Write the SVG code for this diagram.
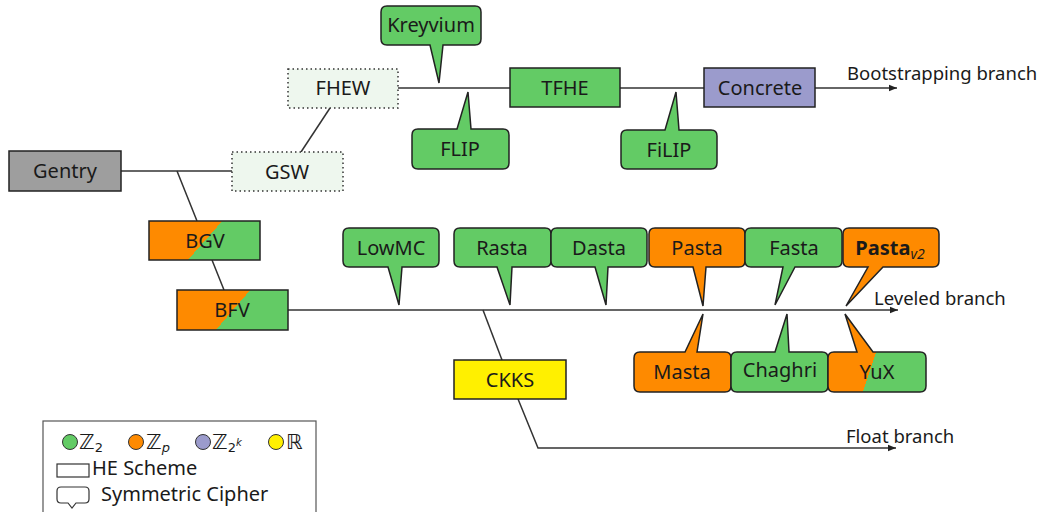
<svg xmlns="http://www.w3.org/2000/svg" width="1042" height="512" viewBox="0 0 1042 512">
<style>
text{font-family:"Noto Sans","Open Sans","DejaVu Sans",sans-serif;fill:#1a1a1a}
.t{font-size:20px;text-anchor:middle}
.lbl{font-size:18.5px}
.box{stroke:#222;stroke-width:1.5}
.dot{fill:#eef7ee;stroke:#333;stroke-width:1.5;stroke-dasharray:1.5 3}
.g{fill:#63cb65}
.o{fill:#fe8a00}
.p{fill:#9b9bcc}
.y{fill:#fff000}
.con{stroke:#333;stroke-width:1.5;fill:none}
.math{font-family:"DejaVu Sans",sans-serif;font-size:21px}
</style>
<defs>
<marker id="arr" viewBox="0 0 10 10" refX="10" refY="5" markerWidth="10" markerHeight="8" markerUnits="userSpaceOnUse" orient="auto">
<path d="M0,1 L10,5 L0,9 Z" fill="#222"/>
</marker>
<linearGradient id="og" x1="0.005" y1="0.345" x2="1.005" y2="0.655">
<stop offset="0.5" stop-color="#fe8a00"/><stop offset="0.5" stop-color="#63cb65"/>
</linearGradient>
<linearGradient id="yux" gradientUnits="userSpaceOnUse" x1="829.5" y1="359" x2="909.5" y2="385">
<stop offset="0.5" stop-color="#fe8a00"/><stop offset="0.5" stop-color="#63cb65"/>
</linearGradient>
</defs>

<g id="connectors">
<line class="con" x1="121" y1="171" x2="232" y2="171"/>
<line class="con" x1="301" y1="152" x2="330" y2="108"/>
<line class="con" x1="398" y1="88" x2="510" y2="88"/>
<line class="con" x1="620" y1="88" x2="704" y2="88"/>
<line class="con" x1="815" y1="88" x2="897" y2="88" marker-end="url(#arr)"/>
<line class="con" x1="177" y1="171" x2="197" y2="221"/>
<line class="con" x1="212" y1="260" x2="224" y2="290"/>
<line class="con" x1="288" y1="310" x2="898" y2="310" marker-end="url(#arr)"/>
<line class="con" x1="483" y1="310" x2="502" y2="360"/>
<polyline class="con" points="518,399 538,448 896,448" marker-end="url(#arr)"/>
</g>

<g id="gentry"><rect class="box" x="9" y="151" width="112" height="40" fill="#9e9e9e"/><text class="t" x="65" y="178">Gentry</text></g>
<g id="gsw"><rect class="dot" x="232" y="152" width="111" height="39"/><text class="t" x="287" y="179">GSW</text></g>
<g id="fhew"><rect class="dot" x="288" y="69" width="110" height="39"/><text class="t" x="343" y="95">FHEW</text></g>
<g id="tfhe"><rect class="box g" x="510" y="68" width="110" height="39"/><text class="t" x="565" y="95">TFHE</text></g>
<g id="concrete"><rect class="box p" x="704" y="68" width="111" height="39"/><text class="t" x="760" y="95">Concrete</text></g>
<text class="lbl" x="847" y="80">Bootstrapping branch</text>

<g id="kreyvium"><path class="box g" d="M387,6 H475 Q481,6 481,12 V39 Q481,45 475,45 H443 L439,83 L430,45 H387 Q381,45 381,39 V12 Q381,6 387,6 Z"/><text class="t" x="431" y="32">Kreyvium</text></g>
<g id="flip"><path class="box g" d="M418,129 H457 L468,92 L471,129 H503 Q509,129 509,135 V163 Q509,169 503,169 H418 Q412,169 412,163 V135 Q412,129 418,129 Z"/><text class="t" x="460" y="156">FLIP</text></g>
<g id="filip"><path class="box g" d="M627,130 H665 L676,92 L679,130 H711 Q717,130 717,136 V163 Q717,169 711,169 H627 Q621,169 621,163 V136 Q621,130 627,130 Z"/><text class="t" x="669" y="157">FiLIP</text></g>

<g id="bgv"><rect class="box" x="149" y="221" width="111" height="39" fill="url(#og)"/><text class="t" x="205" y="248">BGV</text></g>
<g id="bfv"><rect class="box" x="177" y="290" width="111" height="40" fill="url(#og)"/><text class="t" x="232" y="317">BFV</text></g>
<g id="ckks"><rect class="box y" x="454" y="360" width="112" height="39"/><text class="t" x="510" y="387">CKKS</text></g>
<text class="lbl" x="874" y="305">Leveled branch</text>
<text class="lbl" x="846" y="443">Float branch</text>

<g id="lowmc"><path class="box g" d="M349,228 H433 Q439,228 439,234 V261 Q439,267 433,267 H402 L399,305 L388,267 H349 Q343,267 343,261 V234 Q343,228 349,228 Z"/><text class="t" x="391" y="255">LowMC</text></g>
<g id="rasta"><path class="box g" d="M460,228 H545 Q551,228 551,234 V261 Q551,267 545,267 H512 L510,305 L497,267 H460 Q454,267 454,261 V234 Q454,228 460,228 Z"/><text class="t" x="502" y="255">Rasta</text></g>
<g id="dasta"><path class="box g" d="M557,228 H641 Q647,228 647,234 V261 Q647,267 641,267 H608 L606,305 L595,267 H557 Q551,267 551,261 V234 Q551,228 557,228 Z"/><text class="t" x="599" y="255">Dasta</text></g>
<g id="pasta"><path class="box o" d="M655,228 H739 Q745,228 745,234 V261 Q745,267 739,267 H706 L703,306 L693,267 H655 Q649,267 649,261 V234 Q649,228 655,228 Z"/><text class="t" x="697" y="255">Pasta</text></g>
<g id="fasta"><path class="box g" d="M751,228 H836 Q842,228 842,234 V261 Q842,267 836,267 H795 L775,305 L783,267 H751 Q745,267 745,261 V234 Q745,228 751,228 Z"/><text class="t" x="794" y="255">Fasta</text></g>
<g id="pastav2"><path class="box o" d="M849,228 H933 Q939,228 939,234 V261 Q939,267 933,267 H883 L846,306 L868,267 H849 Q843,267 843,261 V234 Q843,228 849,228 Z"/><text class="t" x="890" y="255"><tspan font-weight="bold">Pasta</tspan><tspan font-style="italic" font-size="14" dy="4">v2</tspan></text></g>

<g id="masta"><path class="box o" d="M640,352 H685 L703,314 L697,352 H725 Q731,352 731,358 V386 Q731,392 725,392 H640 Q634,392 634,386 V358 Q634,352 640,352 Z"/><text class="t" x="682" y="379">Masta</text></g>
<g id="chaghri"><path class="box g" d="M737,352 H775 L787,314 L789,352 H822 Q828,352 828,358 V386 Q828,392 822,392 H737 Q731,392 731,386 V358 Q731,352 737,352 Z"/><text class="t" x="780" y="377">Chaghri</text></g>
<g id="yux"><path class="box" fill="url(#yux)" d="M834,352 H857 L845,314 L873,352 H920 Q926,352 926,358 V386 Q926,392 920,392 H834 Q828,392 828,386 V358 Q828,352 834,352 Z"/><text class="t" x="877" y="379">YuX</text></g>

<g id="legend">
<rect x="43" y="421" width="273" height="100" fill="#fff" stroke="#555" stroke-width="1.2"/>
<circle cx="70" cy="442" r="7.5" class="g" stroke="#333" stroke-width="1"/>
<text class="math" x="79" y="449">ℤ<tspan font-size="13" dy="3">2</tspan></text>
<circle cx="136" cy="442" r="7.5" class="o" stroke="#333" stroke-width="1"/>
<text class="math" x="146" y="449">ℤ<tspan font-size="13" dy="3" font-style="italic">p</tspan></text>
<circle cx="203" cy="442" r="7.5" class="p" stroke="#333" stroke-width="1"/>
<text class="math" x="212" y="449">ℤ<tspan font-size="13" dy="3">2</tspan><tspan font-size="10" dy="-6" font-style="italic">k</tspan></text>
<circle cx="276" cy="442" r="7.5" class="y" stroke="#333" stroke-width="1"/>
<text class="math" x="286" y="449">ℝ</text>
<rect x="57" y="464" width="32" height="13" fill="#fff" stroke="#333" stroke-width="1.2"/>
<text x="92" y="475" font-size="20">HE Scheme</text>
<path d="M61,487 H85 Q89,487 89,491 V499 Q89,503 85,503 H76 L72,508 L68,503 H61 Q57,503 57,499 V491 Q57,487 61,487 Z" fill="#fff" stroke="#333" stroke-width="1.2"/>
<text x="101" y="501" font-size="20">Symmetric Cipher</text>
</g>
</svg>
